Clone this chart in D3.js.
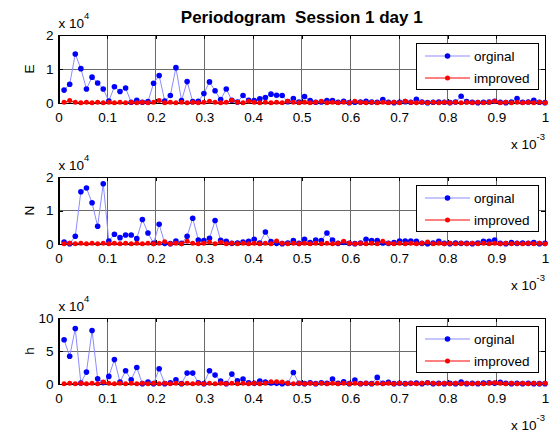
<!DOCTYPE html>
<meta charset="utf-8">
<style>
    body {
        margin: 0;
        background: #fff;
    }

    svg {
        font-family: "Liberation Sans", Arial, sans-serif;
    }

    .axis path,
    .axis line {
        fill: none;
        stroke: black;
        shape-rendering: crispEdges;
    }

    .axis text {
        font-size: 13.5px;
        fill: black;
    }

    .grid line {
        stroke: #6a6a6a;
        shape-rendering: crispEdges;
    }
</style>
<body>
<script src="https://cdn.jsdelivr.net/npm/d3@7"></script>
<script>
    // frequency axis (x 10^-3), 87 periodogram bins up to 1
    const nBins = 87;
    const freqTicks = [0, 0.1, 0.2, 0.3, 0.4, 0.5, 0.6, 0.7, 0.8, 0.9, 1];

    // values in units of 10^4
    const eOriginal = [0.38, 0.55, 1.44, 1.01, 0.41, 0.76, 0.59, 0.41, 0.06, 0.48,
        0.34, 0.44, 0.02, 0.08, 0.02, 0.04, 0.58, 0.81, 0.06, 0.22,
        1.04, 0.07, 0.63, 0.04, 0.05, 0.28, 0.62, 0.36, 0.10, 0.41,
        0.08, 0.03, 0.22, 0.08, 0.07, 0.12, 0.16, 0.26, 0.23, 0.22,
        0.04, 0.13, 0.03, 0.19, 0.07, 0.02, 0.03, 0.07, 0.07, 0.02,
        0.05, 0.01, 0.02, 0.03, 0.05, 0.03, 0.02, 0.10, 0.02, 0.01,
        0.02, 0.04, 0.02, 0.11, 0.03, 0.01, 0.02, 0.03, 0.02, 0.01,
        0.03, 0.20, 0.04, 0.02, 0.01, 0.02, 0.03, 0.05, 0.02, 0.01,
        0.03, 0.13, 0.02, 0.03, 0.08, 0.02, 0.01];
    const eImproved = [0.02, 0.07, 0.02, 0.01, 0.02, 0.01, 0.02, 0.01, 0.02, 0.01,
        0.02, 0.01, 0.02, 0.01, 0.02, 0.01, 0.02, 0.07, 0.01, 0.02,
        0.01, 0.02, 0.01, 0.02, 0.01, 0.02, 0.05, 0.02, 0.01, 0.02,
        0.08, 0.02, 0.01, 0.05, 0.02, 0.01, 0.02, 0.01, 0.02, 0.01,
        0.05, 0.02, 0.01, 0.02, 0.01, 0.02, 0.05, 0.01, 0.02, 0.01,
        0.02, 0.01, 0.05, 0.02, 0.01, 0.02, 0.01, 0.02, 0.01, 0.02,
        0.01, 0.05, 0.02, 0.01, 0.02, 0.01, 0.02, 0.01, 0.02, 0.01,
        0.02, 0.01, 0.02, 0.01, 0.02, 0.01, 0.02, 0.05, 0.01, 0.02,
        0.01, 0.02, 0.01, 0.02, 0.01, 0.02, 0.01];

    const nOriginal = [0.06, 0.01, 0.23, 1.56, 1.67, 1.23, 0.53, 1.80, 0.09, 0.29,
        0.19, 0.27, 0.27, 0.16, 0.73, 0.33, 0.02, 0.59, 0.02, 0.01,
        0.09, 0.02, 0.23, 0.77, 0.12, 0.10, 0.17, 0.70, 0.11, 0.08,
        0.02, 0.03, 0.06, 0.08, 0.14, 0.03, 0.36, 0.07, 0.02, 0.01,
        0.03, 0.10, 0.02, 0.14, 0.04, 0.12, 0.10, 0.33, 0.12, 0.02,
        0.05, 0.02, 0.01, 0.03, 0.14, 0.10, 0.10, 0.03, 0.02, 0.04,
        0.09, 0.09, 0.09, 0.08, 0.02, 0.01, 0.03, 0.08, 0.02, 0.01,
        0.03, 0.02, 0.02, 0.01, 0.03, 0.08, 0.08, 0.12, 0.02, 0.01,
        0.04, 0.02, 0.03, 0.02, 0.04, 0.01, 0.02];
    const nImproved = [0.01, 0.02, 0.01, 0.02, 0.01, 0.02, 0.01, 0.02, 0.01, 0.02,
        0.01, 0.02, 0.01, 0.02, 0.01, 0.02, 0.01, 0.02, 0.07, 0.01,
        0.02, 0.01, 0.08, 0.02, 0.01, 0.02, 0.06, 0.01, 0.05, 0.01,
        0.02, 0.01, 0.02, 0.01, 0.02, 0.01, 0.02, 0.01, 0.09, 0.02,
        0.01, 0.02, 0.01, 0.02, 0.01, 0.02, 0.01, 0.02, 0.01, 0.02,
        0.08, 0.02, 0.01, 0.02, 0.01, 0.02, 0.01, 0.08, 0.02, 0.01,
        0.02, 0.01, 0.02, 0.01, 0.02, 0.06, 0.01, 0.02, 0.01, 0.02,
        0.01, 0.02, 0.01, 0.02, 0.01, 0.02, 0.01, 0.02, 0.01, 0.02,
        0.01, 0.02, 0.01, 0.02, 0.01, 0.02, 0.01];

    const hOriginal = [6.7, 4.2, 8.4, 0.15, 1.8, 8.1, 0.8, 0.2, 1.15, 3.7,
        0.3, 2.0, 0.65, 2.5, 0.05, 0.3, 0.05, 2.3, 0.05, 0.2,
        0.65, 0.05, 1.65, 1.65, 0.2, 0.05, 2.0, 1.35, 0.45, 0.05,
        1.5, 0.5, 0.75, 0.2, 0.1, 0.45, 0.3, 0.15, 0.1, 0.05,
        0.1, 1.75, 0.1, 0.05, 0.2, 0.05, 0.2, 0.1, 0.75, 0.1,
        0.35, 0.05, 0.6, 0.05, 0.1, 0.05, 1.0, 0.1, 0.25, 0.05,
        0.1, 0.05, 0.1, 0.15, 0.05, 0.2, 0.05, 0.1, 0.05, 0.1,
        0.05, 0.3, 0.05, 0.1, 0.05, 0.15, 0.2, 0.1, 0.25, 0.1,
        0.05, 0.1, 0.05, 0.1, 0.05, 0.05, 0.05];
    const hImproved = [0.05, 0.1, 0.05, 0.1, 0.05, 0.1, 0.05, 0.3, 0.1, 0.05,
        0.1, 0.05, 0.1, 0.05, 0.1, 0.05, 0.1, 0.05, 0.1, 0.05,
        0.1, 0.05, 0.1, 0.05, 0.1, 0.05, 0.1, 0.05, 0.1, 0.05,
        0.1, 0.05, 0.1, 0.05, 0.1, 0.05, 0.1, 0.35, 0.35, 0.3,
        0.1, 0.05, 0.1, 0.05, 0.1, 0.05, 0.1, 0.05, 0.1, 0.05,
        0.1, 0.05, 0.1, 0.05, 0.1, 0.05, 0.1, 0.05, 0.1, 0.05,
        0.1, 0.05, 0.1, 0.05, 0.1, 0.2, 0.1, 0.05, 0.1, 0.05,
        0.1, 0.05, 0.1, 0.05, 0.1, 0.05, 0.1, 0.2, 0.1, 0.05,
        0.1, 0.05, 0.1, 0.05, 0.1, 0.05, 0.1];

    const panelLabels = ['E', 'N', 'h'];
    const panelMax = [2, 2, 10];
    const panelTicks = [[0, 1, 2], [0, 1, 2], [0, 5, 10]];
    const panelSeries = [[eOriginal, eImproved], [nOriginal, nImproved], [hOriginal, hImproved]];
    const seriesNames = ['orginal', 'improved'];

    // layout
    const width = 552, height = 433;
    const left = 58.5, right = 545;
    const tops = [35, 177, 318];
    const bottoms = [103, 244, 384];

    const svg = d3.select('body')
        .append('svg')
        .attr('width', width)
        .attr('height', height);

    const x = d3.scaleLinear().domain([0, 1]).range([left, right]);

    svg.append('text')
        .attr('x', (left + right) / 2)
        .attr('y', 23)
        .attr('text-anchor', 'middle')
        .style('font-size', '17px')
        .style('font-weight', 'bold')
        .style('white-space', 'pre')
        .text('Periodogram  Session 1 day 1');

    panelLabels.forEach((label, p) => {
        const top = tops[p], bottom = bottoms[p];
        const y = d3.scaleLinear().domain([0, panelMax[p]]).range([bottom, top]);
        const g = svg.append('g');

        // grid
        const grid = g.append('g').attr('class', 'grid');
        grid.selectAll('.vx').data(freqTicks).enter().append('line')
            .attr('x1', d => x(d)).attr('x2', d => x(d))
            .attr('y1', top).attr('y2', bottom);
        grid.selectAll('.hy').data(panelTicks[p]).enter().append('line')
            .attr('x1', left).attr('x2', right)
            .attr('y1', d => y(d)).attr('y2', d => y(d));

        // axes (ticks point inward)
        g.append('g').attr('class', 'axis')
            .attr('transform', 'translate(0,' + bottom + ')')
            .call(d3.axisBottom(x).tickValues(freqTicks).tickFormat(d3.format('~g'))
                .tickSizeInner(-4).tickSizeOuter(0).tickPadding(9));
        g.append('g').attr('class', 'axis')
            .attr('transform', 'translate(0,' + top + ')')
            .call(d3.axisTop(x).tickValues(freqTicks).tickFormat('')
                .tickSizeInner(-4).tickSizeOuter(0));
        g.append('g').attr('class', 'axis')
            .attr('transform', 'translate(' + left + ',0)')
            .call(d3.axisLeft(y).tickValues(panelTicks[p]).tickFormat(d3.format('~g'))
                .tickSizeInner(-4).tickSizeOuter(0).tickPadding(5));
        g.append('g').attr('class', 'axis')
            .attr('transform', 'translate(' + right + ',0)')
            .call(d3.axisRight(y).tickValues(panelTicks[p]).tickFormat('')
                .tickSizeInner(-4).tickSizeOuter(0));

        g.append('rect')
            .attr('x', left).attr('y', top)
            .attr('width', right - left).attr('height', bottom - top)
            .style('fill', 'none').style('stroke', 'black')
            .style('shape-rendering', 'crispEdges');

        // series
        const colors = [['#8c8cff', '#0000ff', 2.8], ['#ff0000', '#ff0000', 2.5]];
        panelSeries[p].forEach((vals, s) => {
            const pts = vals.map((v, i) => [(i + 1) / nBins, v]);
            const line = d3.line().x(d => x(d[0])).y(d => y(d[1]));
            g.append('path')
                .datum(pts)
                .attr('d', line)
                .style('fill', 'none')
                .style('stroke', colors[s][0])
                .style('stroke-width', 1);
            g.selectAll('.dot' + s).data(pts).enter().append('circle')
                .attr('cx', d => x(d[0]))
                .attr('cy', d => y(d[1]))
                .attr('r', colors[s][2])
                .style('fill', colors[s][1]);
        });

        // y label and exponent labels
        svg.append('text')
            .attr('transform', 'translate(33.5,' + (top + bottom) / 2 + ') rotate(-90)')
            .attr('text-anchor', 'middle')
            .style('font-size', '13.5px')
            .text(label);

        const ex = svg.append('text')
            .attr('x', left)
            .attr('y', top - 7.5)
            .style('font-size', '13.5px')
            .text('x 10');
        ex.append('tspan').attr('dy', -8.5).style('font-size', '9.5px').text('4');

        const ex2 = svg.append('text')
            .attr('x', right)
            .attr('y', bottom + 45.5)
            .attr('text-anchor', 'end')
            .style('font-size', '13.5px')
            .text('x 10');
        ex2.append('tspan').attr('dy', -8.5).style('font-size', '9.5px').text('-3');

        // legend
        const lg = g.append('g').attr('transform', 'translate(416,' + (top + 8.5) + ')');
        lg.append('rect')
            .attr('width', 122).attr('height', 46)
            .style('fill', 'white').style('stroke', 'black')
            .style('shape-rendering', 'crispEdges');
        seriesNames.forEach((name, s) => {
            const ly = 12.5 + s * 22;
            lg.append('line')
                .attr('x1', 9).attr('x2', 54)
                .attr('y1', ly).attr('y2', ly)
                .style('stroke', colors[s][0]);
            lg.append('circle')
                .attr('cx', 31.5).attr('cy', ly).attr('r', colors[s][2])
                .style('fill', colors[s][1]);
            lg.append('text')
                .attr('x', 58).attr('y', ly + 5)
                .style('font-size', '13.5px')
                .text(name);
        });
    });
</script>
</body>
